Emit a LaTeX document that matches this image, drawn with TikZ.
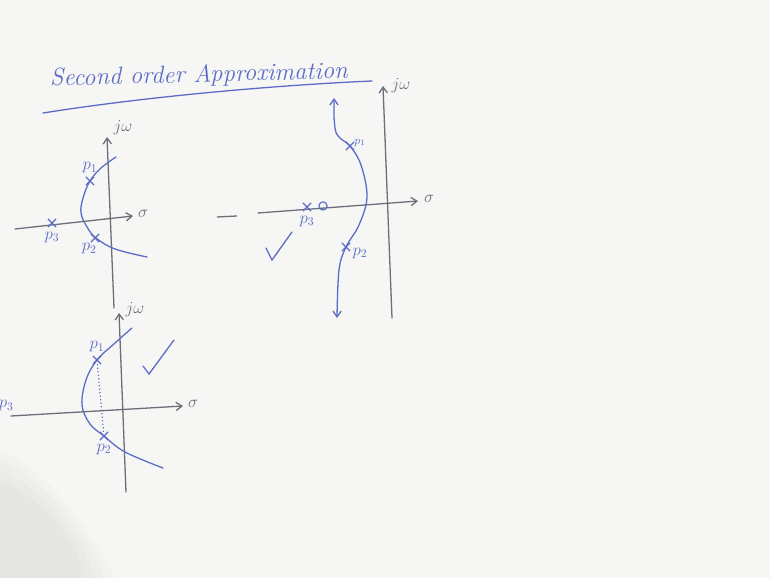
\documentclass[tikz,border=0pt]{standalone}
\usepackage{tikz}
\usetikzlibrary{arrows.meta, positioning, shapes.misc}
\definecolor{inkblue}{RGB}{92,108,198}
\definecolor{axisgray}{RGB}{108,110,122}
\definecolor{board}{RGB}{246,246,244}

\begin{document}
\begin{tikzpicture}[x=0.03cm, y=-0.03cm,
  ink/.style={draw=inkblue, line width=1.1pt, line cap=round},
  axis/.style={draw=axisgray, line width=1.1pt, line cap=round, -{Straight Barb[length=5pt, width=7pt]}},
  pole/.style={cross out, draw=inkblue, line width=1pt, inner sep=0pt, minimum size=6pt},
  zero/.style={circle, draw=inkblue, line width=1pt, inner sep=0pt, minimum size=7pt},
  lbl/.style={text=inkblue, font=\Large, inner sep=1pt},
  axlbl/.style={text=axisgray, font=\Large, inner sep=1pt}
]
  \useasboundingbox (0,0) rectangle (770,578);
  \fill[board] (0,0) rectangle (770,578);
  % hand shadow, bottom left
  \foreach \d in {0,10,20,30}
    \fill[black, opacity=0.015] (0,450+\d) .. controls (30,462+\d) and (75,500+\d) .. (115-\d,578) -- (0,578) -- cycle;

  % title
  \node[text=inkblue, font=\itshape\fontsize{21}{25}\selectfont, anchor=base west, rotate=1.5, inner sep=0pt] (title) at (50,86) {Second order Approximation};
  \draw[ink] (43,113) .. controls (150,96) and (280,85) .. (372,81);

  % first sketch: all three poles
  \draw[axis] (114,308) -- (107,137);
  \node[axlbl] (jw1) at (123,128) {$j\omega$};
  \draw[axis] (15,229) -- (133,216);
  \node[axlbl] (s1) at (143,214) {$\sigma$};
  \draw[ink] plot[smooth, tension=0.6] coordinates {(116,157) (101,168) (90,181) (83,198) (81,213) (87,227) (96,238) (115,249) (147,257)};
  \node[pole] (p1a) at (90,181) {};
  \node[lbl, above=2pt of p1a] {$p_1$};
  \node[pole] (p2a) at (95,238) {};
  \node[lbl, below left=0pt and -6pt of p2a] {$p_2$};
  \node[pole] (p3a) at (52,223) {};
  \node[lbl, below=3pt of p3a] {$p_3$};

  \draw[axisgray, line width=1.1pt] (217,217) -- (237,216);

  % second sketch: pole and zero near each other
  \draw[axis] (392,318) -- (383,86);
  \node[axlbl] (jw2) at (401,86) {$j\omega$};
  \draw[axis] (258,213) -- (418,201);
  \node[axlbl] (s2) at (429,199) {$\sigma$};
  \draw[ink, {Straight Barb[length=5pt, width=7pt]}-{Straight Barb[length=5pt, width=7pt]}] plot[smooth, tension=0.6] coordinates {(334,98) (335,128) (340,138) (350,146) (361,165) (367,197) (359,225) (346,247) (339,270) (337,318)};
  \node[pole] (p1b) at (350,146) {};
  \node[lbl, font=\normalsize, above right=-5pt and -1pt of p1b] {$p_1$};
  \node[pole] (p2b) at (346,247) {};
  \node[lbl, below right=-4pt and 1pt of p2b] {$p_2$};
  \node[pole] (p3b) at (307,207) {};
  \node[lbl, below=3pt of p3b] {$p_3$};
  \node[zero] (z1) at (323,206) {};
  \draw[ink] (266,248) -- (272,260) -- (292,232);

  % third sketch: dominant pair
  \draw[axis] (126,492) -- (119,313);
  \node[axlbl] (jw3) at (135,310) {$j\omega$};
  \draw[axis] (11,416) -- (183,406);
  \node[axlbl] (s3) at (193,404) {$\sigma$};
  \node[lbl, anchor=east] (p3c) at (15,406) {$p_3$};
  \draw[ink] plot[smooth, tension=0.6] coordinates {(132,328) (115,343) (97,360) (86,380) (82,405) (90,424) (104,436) (125,452) (163,468)};
  \node[pole] (p1c) at (97,360) {};
  \node[lbl, above=2pt of p1c] {$p_1$};
  \node[pole] (p2c) at (104,436) {};
  \node[lbl, below=2pt of p2c] {$p_2$};
  \draw[inkblue, line width=1pt, dotted] (p1c) -- (p2c);
  \draw[ink] (143,366) -- (149,374) -- (174,340);
\end{tikzpicture}
\end{document}
